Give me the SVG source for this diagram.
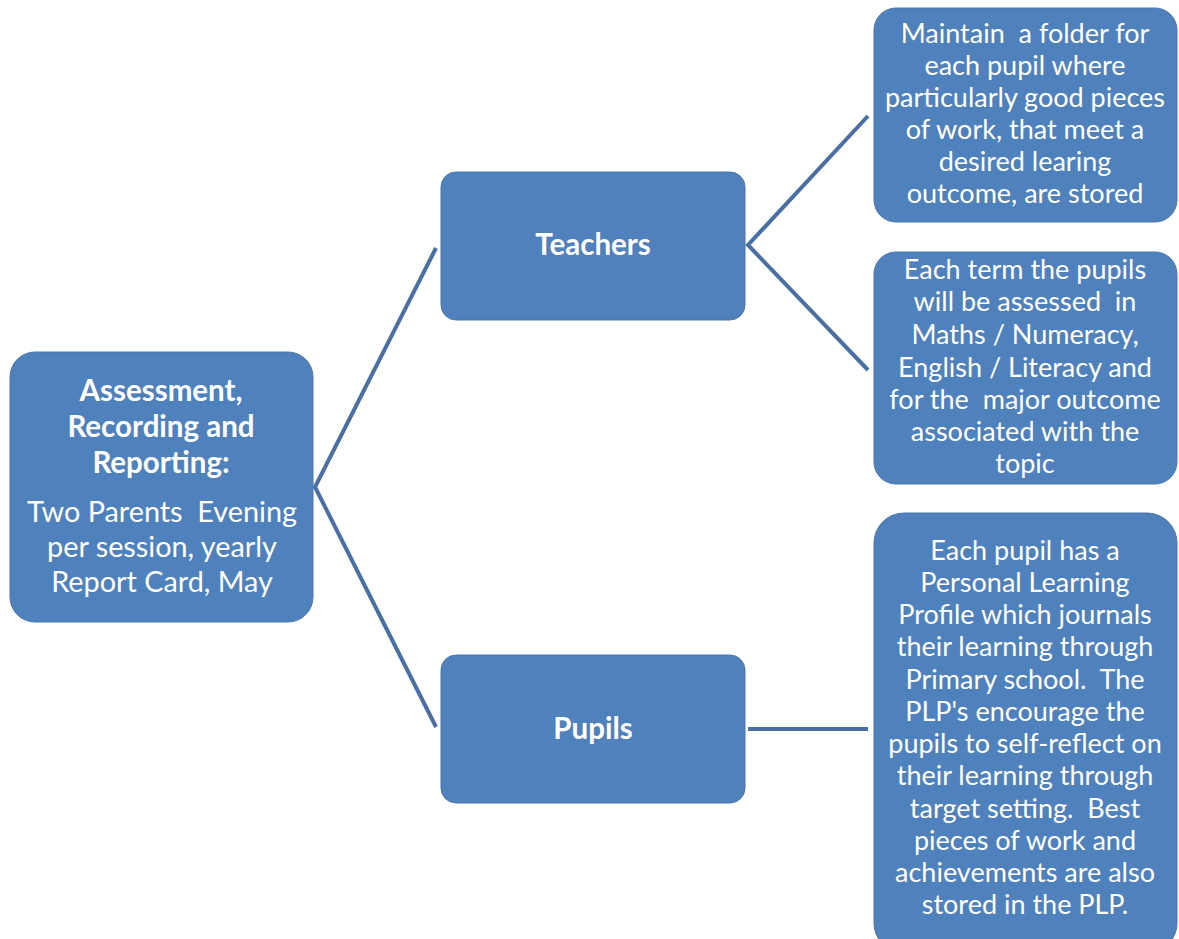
<svg xmlns="http://www.w3.org/2000/svg" width="1179" height="939" viewBox="0 0 1179 939">
<style>
.box{fill:#4f81bd;stroke:#4a76ad;stroke-width:1}
.t{font-family:Lato,"Open Sans","Liberation Sans",sans-serif;font-size:27px;fill:#fff;text-anchor:middle;white-space:pre}
.b{font-weight:bold;font-size:29.5px}
.r{font-size:28.8px}
.c{stroke:#4a6fa3;stroke-width:4;fill:none}
</style>
<rect width="1179" height="939" fill="#fff"/>
<g id="connectors">
<path class="c" d="M436,248 L315,487 L436,727"/>
<path class="c" d="M868,116 L748,245 L868,370"/>
<path class="c" d="M748,729 L868,729"/>
</g>
<g id="root">
<rect class="box" x="10" y="352" width="303" height="270" rx="25"/>
<text class="t b" x="161" y="401">Assessment,</text>
<text class="t b" x="161" y="437">Recording and</text>
<text class="t b" x="161" y="473">Reporting:</text>
<text class="t r" x="162" y="522" xml:space="preserve">Two Parents  Evening</text>
<text class="t r" x="162" y="557">per session, yearly</text>
<text class="t r" x="162" y="592">Report Card, May</text>
</g>
<g id="teachers">
<rect class="box" x="441" y="172" width="304" height="148" rx="15"/>
<text class="t b" x="593" y="255">Teachers</text>
</g>
<g id="pupils">
<rect class="box" x="441" y="655" width="304" height="148" rx="15"/>
<text class="t b" x="593" y="739">Pupils</text>
</g>
<g id="folder">
<rect class="box" x="874" y="8" width="303" height="214" rx="22"/>
<text class="t" x="1025" y="43" xml:space="preserve">Maintain  a folder for</text>
<text class="t" x="1025" y="75">each pupil where</text>
<text class="t" x="1025" y="107">particularly good pieces</text>
<text class="t" x="1025" y="139">of work, that meet a</text>
<text class="t" x="1025" y="171">desired learing</text>
<text class="t" x="1025" y="203">outcome, are stored</text>
</g>
<g id="assessed">
<rect class="box" x="874" y="252" width="303" height="232" rx="22"/>
<text class="t" x="1025" y="279">Each term the pupils</text>
<text class="t" x="1025" y="311" xml:space="preserve">will be assessed  in</text>
<text class="t" x="1025" y="344">Maths / Numeracy,</text>
<text class="t" x="1025" y="377">English / Literacy and</text>
<text class="t" x="1025" y="409" xml:space="preserve">for the  major outcome</text>
<text class="t" x="1025" y="441">associated with the</text>
<text class="t" x="1025" y="473">topic</text>
</g>
<g id="plp">
<rect class="box" x="874" y="513" width="303" height="440" rx="30"/>
<text class="t" x="1025" y="560">Each pupil has a</text>
<text class="t" x="1025" y="592">Personal Learning</text>
<text class="t" x="1025" y="624">Profile which journals</text>
<text class="t" x="1025" y="656">their learning through</text>
<text class="t" x="1025" y="689" xml:space="preserve">Primary school.  The</text>
<text class="t" x="1025" y="721">PLP's encourage the</text>
<text class="t" x="1025" y="753">pupils to self-reflect on</text>
<text class="t" x="1025" y="785">their learning through</text>
<text class="t" x="1025" y="818" xml:space="preserve">target setting.  Best</text>
<text class="t" x="1025" y="850">pieces of work and</text>
<text class="t" x="1025" y="882">achievements are also</text>
<text class="t" x="1025" y="914">stored in the PLP.</text>
</g>
</svg>
